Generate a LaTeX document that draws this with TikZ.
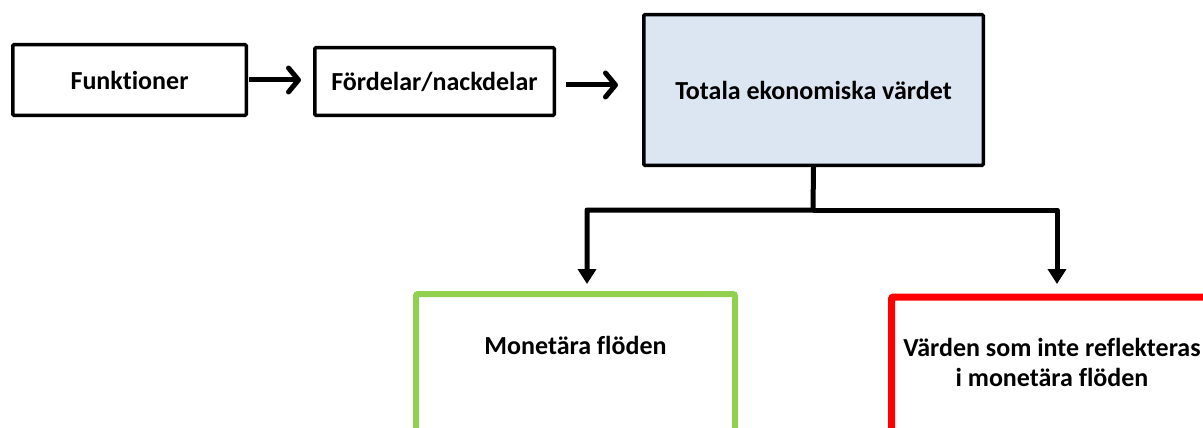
\documentclass[tikz,border=0pt]{standalone}
\usepackage{fontspec}
\setmainfont{Carlito}[Ligatures={NoCommon}]
\usetikzlibrary{arrows.meta}
\definecolor{boxblue}{HTML}{DCE6F2}
\definecolor{boxgreen}{HTML}{92D050}
\definecolor{boxred}{HTML}{FF0000}
\begin{document}
\begin{tikzpicture}[x=1pt,y=-1pt,
  txt/.style={font=\fontsize{26}{30}\selectfont\bfseries, align=center},
  blackbox/.style={draw=black, line width=3.5pt, fill=white, rounded corners=1pt},
  colbox/.style={line width=6pt, fill=white, rounded corners=2pt},
  harr/.style={line width=5pt, -{Straight Barb[length=10pt,width=24pt,line cap=round,line join=round]}},
  darr/.style={line width=5pt, line join=round, -{Triangle[length=15pt,width=18pt]}}]
\useasboundingbox (0,0) rectangle (1203,428);
\clip (0,0) rectangle (1203,428);
\node[blackbox, txt, minimum width=233.5pt, minimum height=70.5pt] (fn) at (129.5,80) {Funktioner};
\node[blackbox, txt, minimum width=239.5pt, minimum height=67.5pt] (fb) at (434.5,81.5) {Fördelar/nackdelar};
\node[blackbox, txt, fill=boxblue, minimum width=339.5pt, minimum height=150.5pt] (tev) at (813.5,90) {Totala ekonomiska värdet};
\node[colbox, draw=boxgreen, minimum width=319pt, minimum height=220pt, anchor=north] (gbox) at (575.5,291) {};
\node[colbox, draw=boxred, line width=7pt, minimum width=321pt, minimum height=220pt, anchor=north] (rbox) at (1052,293.5) {};
\node[txt] (gtxt) at (575.5,345) {Monetära flöden};
\node[txt] (rtxt) at (1052,362) {Värden som inte reflekteras\\i monetära flöden};
\coordinate (split) at (813,210);
\coordinate (gin) at (587,284);
\coordinate (rin) at (1057,284);
\draw[harr] ([xshift=1pt]fn.east) -- ([xshift=-12pt]fb.west |- fn.east);
\draw[harr] ([xshift=10pt,yshift=-3.5pt]fb.east) -- ([xshift=-24pt,yshift=-3.5pt]tev.west |- fb.east);
\draw[darr] (tev.south) -- (split) -| (gin);
\draw[darr] (split) -| (rin);
\end{tikzpicture}
\end{document}
